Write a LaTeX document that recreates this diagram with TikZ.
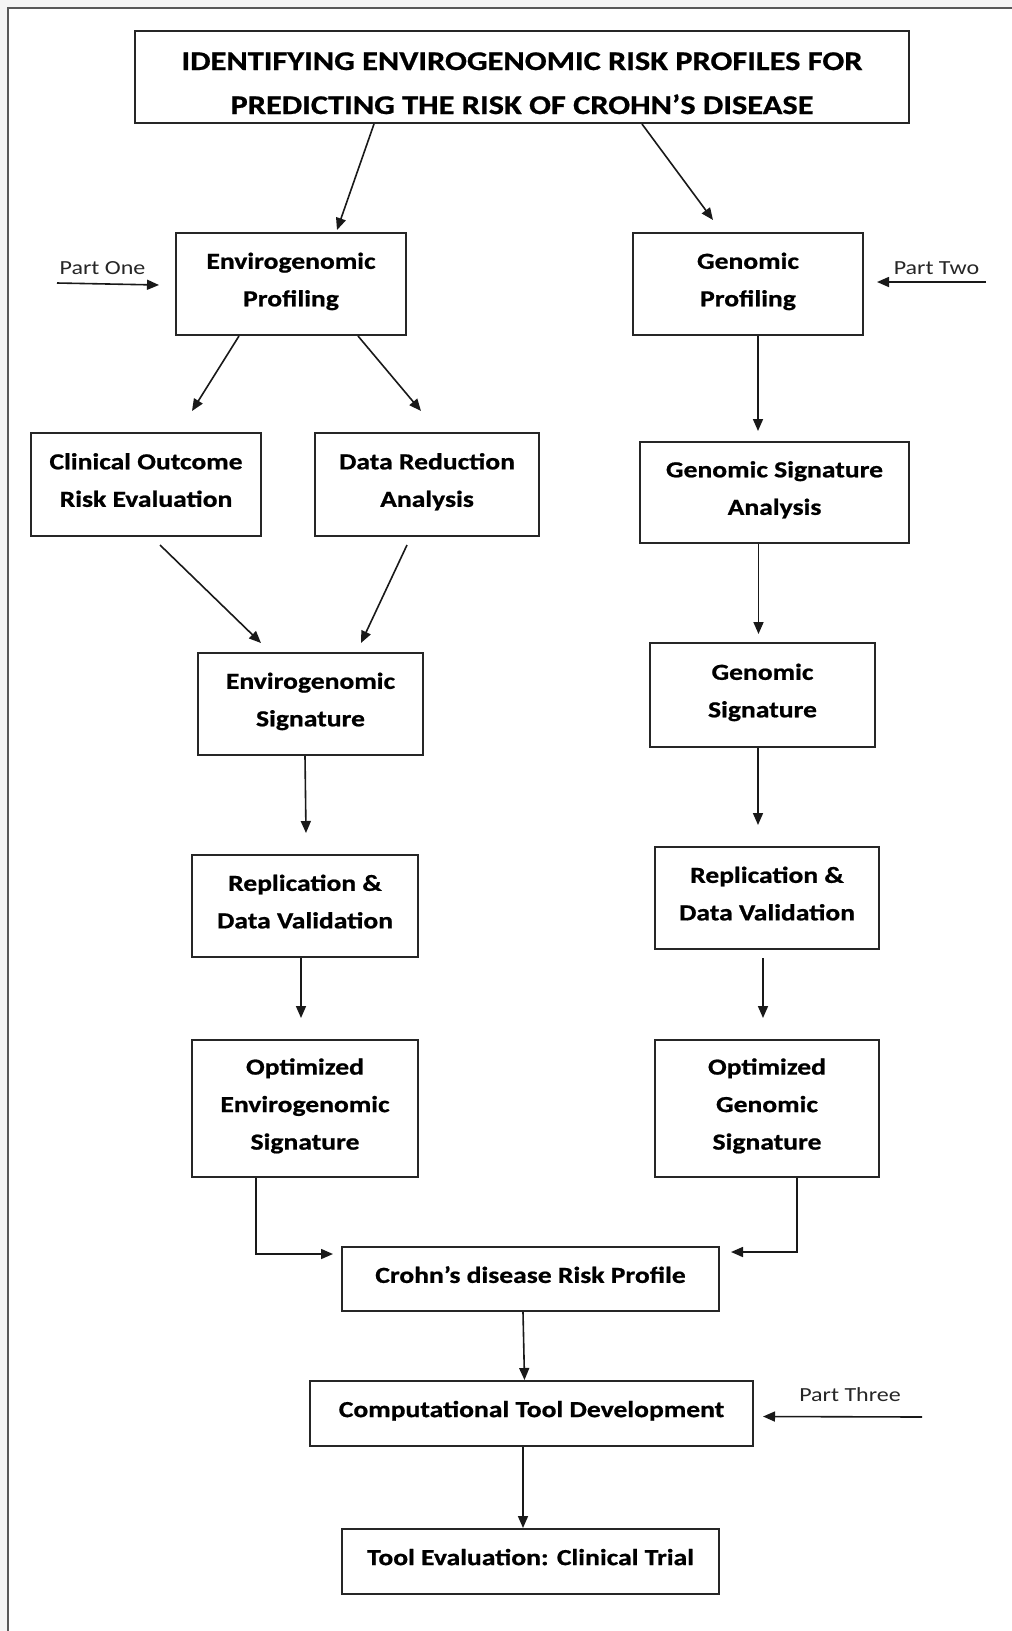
\documentclass[tikz,border=0pt]{standalone}
\usepackage{fontspec}
\usetikzlibrary{arrows.meta}
\newfontfamily\bxfont[FakeStretch=1.2,FakeBold=0.8]{Carlito}
\newfontfamily\ptfont[FakeStretch=1.2]{Carlito}
\begin{document}
\begin{tikzpicture}[x=1pt,y=-1pt,
  box/.style={draw=black!85,line width=2pt,fill=white,inner sep=0pt,align=center,text depth=9pt,
    font=\bxfont\bfseries\fontsize{23}{37.5}\selectfont},
  conn/.style={draw=black!90,line width=1.6pt,-{Triangle[length=12pt,width=10pt]}},
  partlbl/.style={inner sep=0pt,font=\ptfont\fontsize{20}{24}\selectfont,text=black!85}]
\useasboundingbox (0,0) rectangle (1012,1631);
\fill[gray!8] (0,0) rectangle (1012,1631);
\fill[white] (8,8) rectangle (1012,1631);
\draw[gray!70!black,line width=2pt] (8,1631) -- (8,8) -- (1012,8);

% nodes
\node[box,minimum width=774pt,minimum height=92pt,text height=74pt,text depth=0pt,font=\bxfont\bfseries\fontsize{27}{44}\selectfont] (title) at (522,77)
  {IDENTIFYING ENVIROGENOMIC RISK PROFILES FOR\\PREDICTING THE RISK OF CROHN’S DISEASE};
\node[box,minimum width=230pt,minimum height=102pt] (envp) at (291,284) {Envirogenomic\\Profiling};
\node[box,minimum width=230pt,minimum height=102pt] (genp) at (748,284) {Genomic\\Profiling};
\node[box,minimum width=230pt,minimum height=103pt] (clin) at (146,484.5) {Clinical Outcome\\Risk Evaluation};
\node[box,minimum width=224pt,minimum height=103pt] (datr) at (427,484.5) {Data Reduction\\Analysis};
\node[box,minimum width=269pt,minimum height=101pt] (gsa) at (774.5,492.5) {Genomic Signature\\Analysis};
\node[box,minimum width=225pt,minimum height=102pt] (envs) at (310.5,704) {Envirogenomic\\Signature};
\node[box,minimum width=225pt,minimum height=104pt] (gens) at (762.5,695) {Genomic\\Signature};
\node[box,minimum width=226pt,minimum height=102pt] (repl) at (305,906) {Replication \&\\Data Validation};
\node[box,minimum width=224pt,minimum height=102pt] (repr) at (767,898) {Replication \&\\Data Validation};
\node[box,minimum width=226pt,minimum height=137pt] (optl) at (305,1108.5) {Optimized\\Envirogenomic\\Signature};
\node[box,minimum width=224pt,minimum height=137pt] (optr) at (767,1108.5) {Optimized\\Genomic\\Signature};
\node[box,minimum width=377pt,minimum height=64pt] (crohn) at (530.5,1279) {Crohn’s disease Risk Profile};
\node[box,minimum width=443pt,minimum height=65pt] (comp) at (531.5,1413.5) {Computational Tool Development};
\node[box,minimum width=377pt,minimum height=65pt] (tool) at (530.5,1561.5) {Tool Evaluation: Clinical Trial};

% part labels
\node[partlbl] (p1) at (102.5,268) {Part One};
\node[partlbl] (p2) at (936.5,268) {Part Two};
\node[partlbl] (p3) at (850,1395) {Part Three};
\coordinate (p1s) at (57,283);
\coordinate (p2s) at (986,282);
\coordinate (p3s) at (922,1417);

% connectors
\draw[conn] ([xshift=-148pt]title.south) -- ([xshift=46pt,yshift=2pt]envp.north);
\draw[conn] ([xshift=120pt]title.south) -- ([xshift=-35pt,yshift=12pt]genp.north);
\draw[conn] (p1s) -- ([xshift=-16pt,yshift=-1pt]envp.west);
\draw[conn] (p2s) -- ([xshift=13pt,yshift=2pt]genp.east);
\draw[conn] ([xshift=-52pt]envp.south) -- ([xshift=46pt,yshift=21pt]clin.north);
\draw[conn] ([xshift=67pt]envp.south) -- ([xshift=-6pt,yshift=21pt]datr.north);
\draw[conn] ([xshift=10pt]genp.south) -- ([xshift=10pt,yshift=10pt]genp.south |- gsa.north);
\draw[conn] ([xshift=14pt,yshift=-8pt]clin.south) -- ([xshift=-49.5pt,yshift=9pt]envs.north);
\draw[conn] ([xshift=-20pt,yshift=-8pt]datr.south) -- ([xshift=50.5pt,yshift=9pt]envs.north);
\draw[conn] ([xshift=-16pt]gsa.south) -- ([xshift=-4pt,yshift=8pt]gens.north);
\draw[conn] ([xshift=-5.5pt]envs.south) -- ([xshift=1pt,yshift=21pt]repl.north);
\draw[conn] ([xshift=-4.5pt]gens.south) -- ([xshift=-9pt,yshift=21pt]repr.north);
\draw[conn] ([xshift=-4pt]repl.south) -- ([xshift=-4pt,yshift=21pt]optl.north);
\draw[conn] ([xshift=-4pt,yshift=-8pt]repr.south) -- ([xshift=-4pt,yshift=21pt]optr.north);
\draw[conn] ([xshift=-49pt]optl.south) |- ([xshift=-8pt,yshift=25pt]crohn.west);
\draw[conn] ([xshift=30pt]optr.south) |- ([xshift=11pt,yshift=27pt]crohn.east);
\draw[conn] ([xshift=-7.5pt]crohn.south) -- ([xshift=-7pt]comp.north);
\draw[conn] ([xshift=-8.5pt]comp.south) -- ([xshift=-7.5pt]tool.north);
\draw[conn] (p3s) -- ([xshift=9pt,yshift=-3pt]comp.east);
\end{tikzpicture}
\end{document}
